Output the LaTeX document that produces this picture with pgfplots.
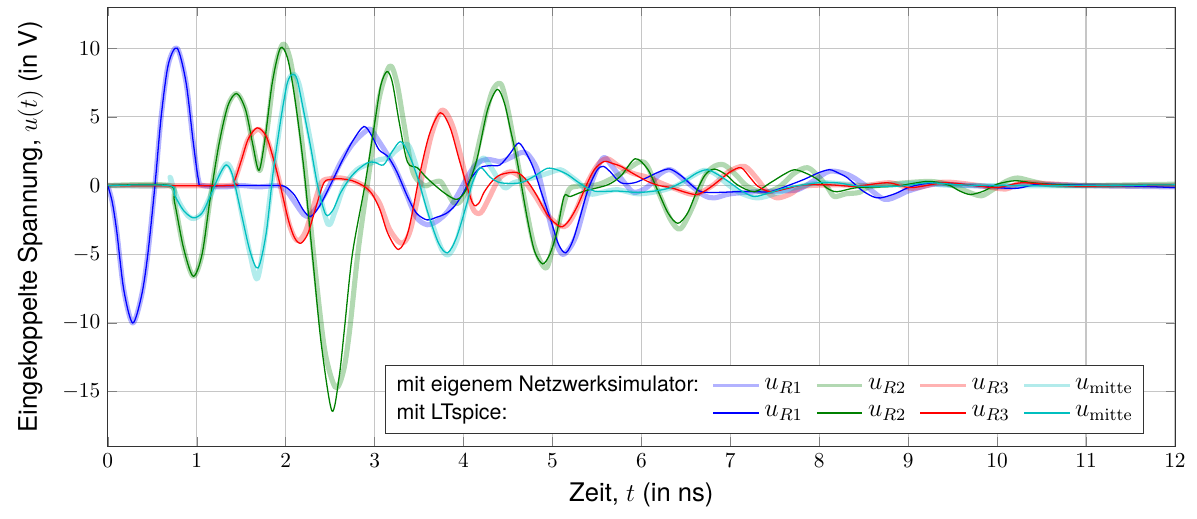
\documentclass[border={5pt 2pt 2pt 3pt}]{standalone}
\usepackage[no-math]{fontspec}
\setmainfont{TeX Gyre Heros}
\usepackage{pgfplots}
\pgfplotsset{compat=1.18}
\definecolor{mB}{RGB}{0,0,255}
\definecolor{mG}{RGB}{0,128,0}
\definecolor{mR}{RGB}{255,0,0}
\definecolor{mC}{RGB}{0,191,191}
\newcommand{\legm}[1]{{\large$#1$}}
\begin{document}
\begin{tikzpicture}
\begin{axis}[
  scale only axis,
  width=500pt,height=206pt,
  xmin=0,xmax=12,ymin=-19,ymax=13,
  xtick={0,1,...,12},ytick={-15,-10,-5,0,5,10},
  grid=major,grid style={gray!45,line width=0.5pt},
  axis line style={black!80},
  xlabel={Zeit, $t$ (in ns)},
  ylabel={Eingekoppelte Spannung, $u(t)$ (in V)},
  label style={font=\large},
  ylabel style={yshift=2pt},
  legend columns=5,
  legend cell align=left,
  legend style={at={(0.971,0.03)},anchor=south east,draw=black!80,fill=white,
    font=\normalsize,inner sep=3pt,
    /tikz/every even column/.append style={column sep=4pt}},
  legend image code/.code={\draw[#1] (0cm,0cm) -- (0.75cm,0cm);},
  own/.style={line width=2.4pt,opacity=0.3,smooth,line join=round,
    legend image code/.code={\draw[##1,line width=1.3pt] (0cm,0cm) -- (0.75cm,0cm);}},
  lt/.style={line width=0.6pt,smooth},
]
\addlegendimage{empty legend}
\addlegendentry{mit eigenem Netzwerksimulator:}
% eigener Netzwerksimulator
\addplot[own,mB] coordinates {(0,0) (0.05,-1.2) (0.1,-3.3) (0.18,-7.6) (0.28,-10) (0.38,-8) (0.45,-5) (0.53,0) (0.6,5) (0.68,8.8) (0.78,10) (0.88,7.5) (0.96,3.2) (1.02,0.4) (1.07,0) (1.3,-0.1) (1.5,0) (1.7,-0.1) (1.9,0) (2.0,-0.3) (2.1,-1.2) (2.2,-2.1) (2.27,-2.2) (2.38,-1.3) (2.5,0.1) (2.62,1.7) (2.75,3.0) (2.87,3.8) (2.95,4.1) (3.03,3.4) (3.12,2.5) (3.22,1.4) (3.35,-0.5) (3.47,-2.3) (3.59,-2.85) (3.7,-2.6) (3.82,-1.9) (3.95,-0.5) (4.05,0.7) (4.15,1.6) (4.27,1.9) (4.42,1.75) (4.55,2.1) (4.65,2.4) (4.72,2.3) (4.83,1.15) (4.93,-1.5) (5.02,-3.8) (5.11,-5.0) (5.2,-4.5) (5.28,-3.4) (5.4,-0.6) (5.5,1.2) (5.58,2.05) (5.67,1.4) (5.81,0.2) (5.92,-0.5) (6.07,-0.1) (6.2,0.8) (6.33,1.15) (6.5,0.3) (6.7,-0.7) (6.82,-0.9) (7.0,-0.6) (7.3,-0.45) (7.55,-0.4) (7.76,-0.3) (7.95,0.4) (8.12,1.05) (8.32,0.8) (8.5,0.1) (8.73,-1.0) (8.9,-0.7) (9.0,-0.4) (9.3,0.1) (9.7,0) (10.1,-0.1) (10.4,0.1) (11,0) (12,-0.1)};
\addlegendentry{\legm{u_{R1}}}
\addplot[own,mG] coordinates {(0,0) (0.69,0) (0.75,-1.2) (0.85,-4.5) (0.96,-6.6) (1.06,-5) (1.15,-1) (1.25,3) (1.35,5.8) (1.45,6.7) (1.55,5.5) (1.63,3) (1.71,1.1) (1.79,4) (1.88,8.5) (1.97,10.3) (2.05,9.2) (2.13,6) (2.23,0.5) (2.33,-6) (2.44,-12) (2.56,-14.7) (2.65,-13.5) (2.72,-10.5) (2.82,-4.5) (2.95,1.5) (3.05,6.3) (3.17,8.7) (3.25,7.5) (3.33,4.5) (3.43,1.0) (3.56,0) (3.65,0.2) (3.74,0.3) (3.8,-0.3) (3.89,-1.25) (3.97,-1.1) (4.08,0.5) (4.2,3.8) (4.32,6.8) (4.42,7.4) (4.5,5.5) (4.6,2.0) (4.7,-1.5) (4.8,-4.5) (4.93,-6.0) (5.03,-3.8) (5.17,-0.5) (5.28,-0.05) (5.5,0.05) (5.65,0.45) (5.75,0.8) (5.87,1.3) (5.99,1.75) (6.07,1.4) (6.2,-0.6) (6.33,-2.5) (6.44,-3.15) (6.58,-1.5) (6.71,0.65) (6.82,1.4) (6.93,1.5) (7.06,0.8) (7.19,-0.05) (7.38,-0.5) (7.55,-0.1) (7.72,0.9) (7.87,1.3) (8.0,0.6) (8.1,-0.2) (8.17,-0.8) (8.3,-0.6) (8.45,-0.5) (8.6,-0.05) (9.22,0.3) (9.5,0) (9.65,-0.4) (9.82,-0.75) (9.95,-0.3) (10.1,0.3) (10.23,0.55) (10.4,0.3) (10.6,0.05) (11,0) (12,0.1)};
\addlegendentry{\legm{u_{R2}}}
\addplot[own,mR] coordinates {(0,0) (1.35,0) (1.42,0.3) (1.5,1.8) (1.58,3.4) (1.69,4.1) (1.78,3.5) (1.86,2.0) (1.94,0) (2.03,-2.6) (2.1,-3.8) (2.15,-4.0) (2.22,-3.4) (2.3,-1.8) (2.4,0.2) (2.5,0.5) (2.62,0.55) (2.78,0.3) (2.92,-0.2) (3.05,-1.2) (3.17,-3.2) (3.3,-4.2) (3.4,-3.3) (3.53,0.5) (3.64,3.7) (3.76,5.5) (3.88,4.3) (4.0,1.3) (4.1,-1.6) (4.19,-2.0) (4.28,-1.0) (4.4,0.5) (4.53,1.0) (4.66,0.5) (4.8,-0.7) (4.95,-2.2) (5.13,-3.0) (5.25,-2.0) (5.4,0.3) (5.52,1.6) (5.62,1.95) (5.75,1.4) (5.9,0.9) (6.07,0.6) (6.25,0.1) (6.41,-0.3) (6.6,-0.65) (6.8,0.0) (6.98,1.0) (7.16,1.4) (7.3,0.5) (7.42,-0.5) (7.53,-0.9) (7.68,-0.6) (7.83,-0.05) (8.2,0.05) (8.5,0) (8.8,0.2) (9.05,-0.2) (9.4,0.25) (9.8,0) (10.1,-0.25) (10.3,0.2) (11,0) (12,0)};
\addlegendentry{\legm{u_{R3}}}
\addplot[own,mC] coordinates {(0,0) (0.66,0) (0.7,0.6) (0.73,0) (0.8,-1.2) (0.9,-2.2) (0.97,-2.4) (1.06,-2.0) (1.15,-0.8) (1.25,0.7) (1.34,1.6) (1.42,0.6) (1.52,-2.5) (1.6,-5) (1.68,-6.8) (1.76,-4) (1.85,0.5) (1.95,5) (2.02,7.5) (2.09,8.1) (2.15,7.4) (2.22,5.2) (2.3,2.5) (2.38,-0.5) (2.48,-2.85) (2.56,-1.8) (2.66,0) (2.8,1.15) (2.95,1.6) (3.06,1.9) (3.15,2.0) (3.25,2.6) (3.37,3.0) (3.45,1.8) (3.55,-0.5) (3.66,-3.0) (3.76,-4.7) (3.84,-5.0) (3.94,-3.7) (4.06,-0.5) (4.15,1.4) (4.23,2.0) (4.32,1.2) (4.46,-0.15) (4.56,0.2) (4.8,0.6) (4.95,0.9) (5.09,1.15) (5.2,0.7) (5.3,0.2) (5.42,-0.6) (5.55,-0.5) (5.73,-0.3) (5.96,-0.6) (6.2,-0.4) (6.4,0) (6.55,0.6) (6.7,1.1) (6.82,0.9) (6.95,0.2) (7.1,-0.5) (7.3,-0.9) (7.5,-0.6) (7.7,-0.2) (8.0,0.2) (8.3,0.1) (8.6,0) (9.2,0.2) (9.6,0) (12,0)};
\addlegendentry{\legm{u_{\mathrm{mitte}}}}
\addlegendimage{empty legend}
\addlegendentry{mit LTspice:}
% LTspice
\addplot[lt,mB] coordinates {(0,0) (0.05,-1.2) (0.1,-3.3) (0.18,-7.6) (0.28,-10) (0.38,-8) (0.45,-5) (0.53,0) (0.6,5) (0.68,8.8) (0.78,10) (0.88,7.5) (0.96,3.2) (1.02,0.4) (1.07,0) (1.5,0) (1.9,0) (2.0,-0.1) (2.1,-0.7) (2.2,-1.8) (2.28,-2.25) (2.38,-1.5) (2.5,0) (2.62,1.6) (2.75,3.2) (2.88,4.3) (2.97,3.6) (3.05,2.6) (3.15,2.1) (3.25,1.0) (3.37,-0.8) (3.47,-2.0) (3.59,-2.5) (3.7,-2.3) (3.8,-2.05) (3.9,-1.5) (4.0,-0.5) (4.08,0.5) (4.19,1.3) (4.3,1.45) (4.41,1.5) (4.52,2.3) (4.62,3.1) (4.71,2.3) (4.79,1.2) (4.88,-0.6) (4.98,-2.5) (5.07,-4.3) (5.15,-4.9) (5.23,-4.0) (5.31,-2.3) (5.4,-0.3) (5.5,1.1) (5.57,1.4) (5.65,1.0) (5.77,0.2) (5.92,0.2) (6.07,0.6) (6.2,1.0) (6.32,1.2) (6.45,0.7) (6.57,0) (6.67,-0.45) (6.85,-0.5) (7.08,-0.45) (7.3,-0.45) (7.45,-0.45) (7.65,0) (7.83,0.45) (8.0,0.95) (8.12,1.15) (8.22,0.9) (8.32,0.55) (8.47,-0.3) (8.6,-0.8) (8.69,-0.9) (8.85,-0.6) (9.0,-0.15) (9.15,0.1) (9.33,0.2) (9.67,0.05) (10.0,-0.15) (10.23,-0.2) (10.46,0.1) (10.8,0.05) (11.2,0) (11.6,-0.05) (12,-0.15)};
\addlegendentry{\legm{u_{R1}}}
\addplot[lt,mG] coordinates {(0,0) (0.69,0) (0.75,-1.2) (0.85,-4.5) (0.96,-6.6) (1.06,-5) (1.15,-1) (1.25,3) (1.35,5.8) (1.45,6.7) (1.55,5.5) (1.63,3) (1.7,1.1) (1.77,3.5) (1.85,7.5) (1.94,10) (2.02,9.3) (2.1,6.5) (2.2,1.5) (2.3,-5) (2.4,-11.5) (2.52,-16.4) (2.6,-14) (2.66,-10.5) (2.75,-5) (2.89,0) (3.0,4.5) (3.07,7.3) (3.14,8.3) (3.2,7.5) (3.28,4.5) (3.37,1.7) (3.48,1.3) (3.58,0.6) (3.7,-0.1) (3.82,-0.7) (3.93,-1.0) (4.03,-0.3) (4.15,1.9) (4.27,5.5) (4.38,7.0) (4.46,6.0) (4.53,4.0) (4.6,1.9) (4.72,-2.5) (4.8,-4.8) (4.89,-5.7) (4.97,-5.0) (5.05,-3.4) (5.13,-0.8) (5.2,-0.8) (5.36,-0.4) (5.62,0.05) (5.77,0.7) (5.93,1.95) (6.07,1.2) (6.18,-0.3) (6.3,-2.0) (6.41,-2.75) (6.52,-2.0) (6.63,-0.3) (6.72,0.8) (6.82,1.2) (6.95,0.8) (7.08,0.05) (7.27,-0.45) (7.45,0.2) (7.6,0.8) (7.72,1.15) (7.85,0.9) (7.98,0.45) (8.09,-0.2) (8.2,-0.45) (8.43,-0.15) (8.85,-0.05) (9.22,0.3) (9.45,0.05) (9.58,-0.4) (9.7,-0.65) (9.85,-0.4) (10.0,0.1) (10.2,0.35) (10.4,0.2) (10.57,0.1) (11,0) (12,0.05)};
\addlegendentry{\legm{u_{R2}}}
\addplot[lt,mR] coordinates {(0,0) (1.35,0) (1.42,0.3) (1.5,1.8) (1.58,3.4) (1.68,4.2) (1.78,3.6) (1.86,2.0) (1.94,0) (2.03,-2.5) (2.1,-3.8) (2.17,-4.2) (2.25,-3.5) (2.33,-1.8) (2.43,0.2) (2.52,0.45) (2.61,0.5) (2.75,0.35) (2.88,-0.05) (2.97,-0.6) (3.06,-1.75) (3.15,-3.5) (3.27,-4.65) (3.38,-3.3) (3.51,0.9) (3.62,3.8) (3.74,5.3) (3.85,4.2) (3.96,1.7) (4.1,-1.25) (4.17,-1.3) (4.23,-0.5) (4.32,0.3) (4.42,0.8) (4.6,0.95) (4.72,0.3) (4.83,-0.8) (4.95,-2.2) (5.09,-3.0) (5.18,-2.6) (5.28,-1.5) (5.38,0) (5.47,1.15) (5.58,1.75) (5.68,1.6) (5.77,1.4) (5.9,0.9) (6.07,0.3) (6.2,0) (6.33,-0.15) (6.5,-0.5) (6.63,-0.65) (6.76,-0.2) (6.89,0.45) (7.0,1.0) (7.12,1.3) (7.22,0.6) (7.31,-0.05) (7.45,-0.45) (7.65,-0.2) (7.83,0.05) (8.13,0.05) (8.4,-0.05) (8.77,0.2) (9.03,-0.15) (9.41,0.2) (9.75,0) (10.0,-0.15) (10.27,0.2) (10.6,0.05) (10.94,-0.05) (11.5,0) (12,0)};
\addlegendentry{\legm{u_{R3}}}
\addplot[lt,mC] coordinates {(0,0) (0.69,0) (0.75,-0.7) (0.85,-1.8) (0.96,-2.35) (1.06,-2.0) (1.15,-0.8) (1.25,0.7) (1.33,1.5) (1.4,0.8) (1.5,-2.0) (1.6,-4.8) (1.69,-6.0) (1.78,-3.5) (1.86,1.0) (1.95,5) (2.02,7.5) (2.08,8.1) (2.13,7.7) (2.2,5.5) (2.28,2.85) (2.36,0) (2.45,-2.1) (2.53,-1.8) (2.62,-0.5) (2.73,0.6) (2.82,1.2) (2.92,1.65) (3.0,1.7) (3.1,1.5) (3.2,2.5) (3.29,3.2) (3.37,2.5) (3.48,0.65) (3.6,-2.0) (3.72,-4.2) (3.82,-4.9) (3.92,-3.8) (4.04,-1.25) (4.1,0.2) (4.19,1.3) (4.3,0.6) (4.42,0.2) (4.64,0.2) (4.8,0.7) (4.94,1.25) (5.05,1.15) (5.17,0.8) (5.3,0.2) (5.47,-0.4) (5.73,-0.4) (5.96,-0.5) (6.15,-0.4) (6.33,-0.15) (6.5,0.4) (6.62,0.9) (6.74,1.15) (6.86,0.8) (7.0,0.2) (7.13,-0.4) (7.27,-0.8) (7.45,-0.5) (7.64,-0.15) (7.98,0.2) (8.2,0.2) (8.47,-0.05) (8.9,-0.05) (9.22,0.2) (9.6,0.05) (10,0) (11,0) (12,0.05)};
\addlegendentry{\legm{u_{\mathrm{mitte}}}}
\end{axis}
\end{tikzpicture}
\end{document}
